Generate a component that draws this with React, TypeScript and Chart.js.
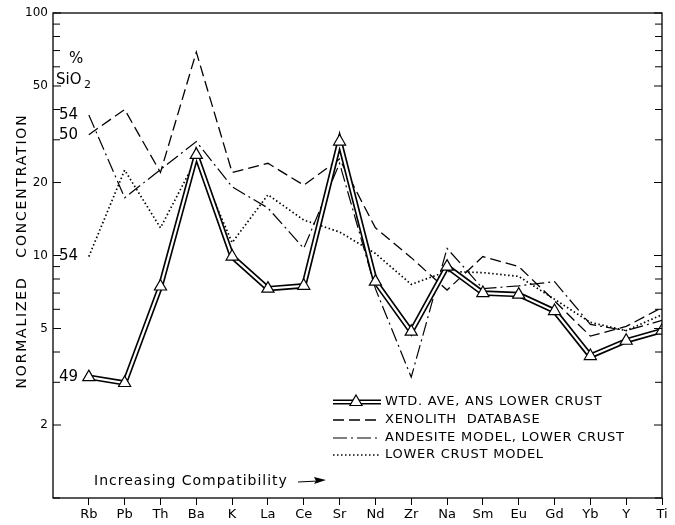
import React, { useEffect, useRef } from "react";
import { Chart, registerables } from "chart.js";

Chart.register(...registerables);

const categories = ["Rb", "Pb", "Th", "Ba", "K", "La", "Ce", "Sr", "Nd", "Zr", "Na", "Sm", "Eu", "Gd", "Yb", "Y", "Ti"];

const wtdAve = [3.15, 2.98, 7.45, 26, 9.9, 7.3, 7.5, 29.5, 7.8, 4.85, 9.0, 7.0, 6.9, 5.9, 3.85, 4.45, 4.9];
const xenolith = [31.5, 40, 22, 69, 22, 24, 19.5, 25, 13, 9.8, 7.2, 9.9, 9.0, 6.5, 4.65, 5.1, 6.1];
const andesite = [38, 17.3, 22.6, 29.5, 19.2, 15.7, 10.7, 24, 7.3, 3.15, 10.7, 7.3, 7.5, 7.8, 5.2, 4.9, 5.4];
const lowerCrust = [9.9, 22.5, 13, 25, 11.3, 17.8, 14, 12.5, 10.2, 7.6, 8.6, 8.5, 8.2, 6.6, 5.3, 4.9, 5.7];

const yTickValues = [1, 2, 3, 4, 5, 6, 7, 8, 9, 10, 20, 30, 40, 50, 60, 70, 80, 90, 100];
const yTickLabels = [2, 5, 10, 20, 50, 100];

const legendLabels = ["WTD. AVE, ANS LOWER CRUST", "XENOLITH  DATABASE", "ANDESITE MODEL, LOWER CRUST", "LOWER CRUST MODEL"];
const siO2Labels = [
  { text: "54", value: 38 },
  { text: "50", value: 31.5 },
  { text: "54", value: 9.9 },
  { text: "49", value: 3.15 },
];

const FONT = "'DejaVu Sans', sans-serif";
const DASHED = [11, 5];
const DASHDOT = [14, 4, 2, 4];
const DOTTED = [1.5, 2.5];

const toXY = (arr: number[]) => arr.map((v, i) => ({ x: i, y: v }));

const decorPlugin = {
  id: "decor",
  afterDraw(chart: any) {
    const { ctx, chartArea, scales } = chart;
    const { left, right, top, bottom } = chartArea;
    const y = scales.y;
    ctx.save();
    ctx.strokeStyle = "#000";
    ctx.fillStyle = "#000";
    ctx.lineWidth = 1.3;
    ctx.setLineDash([]);
    ctx.strokeRect(left, top, right - left, bottom - top);

    // inward ticks on both sides
    ctx.lineWidth = 1;
    yTickValues.forEach((v) => {
      const py = y.getPixelForValue(v);
      const len = yTickLabels.includes(v) ? 8 : 7;
      ctx.beginPath();
      ctx.moveTo(left, py);
      ctx.lineTo(left + len, py);
      ctx.moveTo(right, py);
      ctx.lineTo(right - len, py);
      ctx.stroke();
    });

    // y title
    ctx.save();
    ctx.translate(22, 251);
    ctx.rotate(-Math.PI / 2);
    ctx.font = `14px ${FONT}`;
    (ctx as any).letterSpacing = "1.8px";
    ctx.textAlign = "center";
    ctx.textBaseline = "middle";
    ctx.fillText("NORMALIZED   CONCENTRATION", 0, 0);
    ctx.restore();

    // % SiO2 annotations
    ctx.font = `15px ${FONT}`;
    ctx.textAlign = "left";
    ctx.textBaseline = "middle";
    ctx.fillText("%", 69, 59);
    ctx.fillText("SiO", 56, 80);
    ctx.font = `11px ${FONT}`;
    ctx.fillText("2", 84, 85);
    ctx.font = `15px ${FONT}`;
    siO2Labels.forEach((l) => {
      ctx.fillText(l.text, 59, y.getPixelForValue(l.value));
    });

    // Increasing compatibility
    ctx.font = `14px ${FONT}`;
    (ctx as any).letterSpacing = "1px";
    ctx.fillText("Increasing Compatibility", 94, 481);
    (ctx as any).letterSpacing = "0px";
    ctx.lineWidth = 1.1;
    ctx.beginPath();
    ctx.moveTo(298, 482);
    ctx.lineTo(318, 481);
    ctx.stroke();
    ctx.beginPath();
    ctx.moveTo(326, 480);
    ctx.lineTo(314, 477);
    ctx.lineTo(316, 481);
    ctx.lineTo(314, 484);
    ctx.closePath();
    ctx.fill();

    // legend
    const rows = [402, 420, 438, 455];
    const x0 = 333;
    const x1 = 381;
    ctx.lineWidth = 5;
    ctx.strokeStyle = "#000";
    ctx.beginPath();
    ctx.moveTo(x0, rows[0]);
    ctx.lineTo(x1, rows[0]);
    ctx.stroke();
    ctx.lineWidth = 2;
    ctx.strokeStyle = "#fff";
    ctx.beginPath();
    ctx.moveTo(x0, rows[0]);
    ctx.lineTo(x1, rows[0]);
    ctx.stroke();
    const tr = 7;
    const tcx = 356;
    const tcy = rows[0];
    ctx.beginPath();
    for (let k = 0; k < 3; k++) {
      const a = (k * 2 * Math.PI) / 3;
      const px = tcx + Math.sin(a) * tr;
      const py = tcy - Math.cos(a) * tr;
      if (k === 0) ctx.moveTo(px, py);
      else ctx.lineTo(px, py);
    }
    ctx.closePath();
    ctx.fillStyle = "#fff";
    ctx.fill();
    ctx.strokeStyle = "#000";
    ctx.lineWidth = 1.2;
    ctx.stroke();
    ctx.fillStyle = "#000";

    const dashes = [DASHED, DASHDOT, DOTTED];
    const widths = [1.3, 1.2, 1.7];
    dashes.forEach((d, i) => {
      ctx.setLineDash(d);
      ctx.lineWidth = widths[i];
      ctx.beginPath();
      ctx.moveTo(x0, rows[i + 1]);
      ctx.lineTo(x1, rows[i + 1]);
      ctx.stroke();
    });
    ctx.setLineDash([]);

    ctx.font = `13px ${FONT}`;
    (ctx as any).letterSpacing = "0.75px";
    legendLabels.forEach((t, i) => {
      ctx.fillText(t, 385, rows[i]);
    });
    ctx.restore();
  },
};

export default function App() {
  const ref = useRef<HTMLCanvasElement | null>(null);
  useEffect(() => {
    if (!ref.current) return;
    const chart = new Chart(ref.current, {
      type: "line",
      data: {
        datasets: [
          {
            label: legendLabels[0],
            data: toXY(wtdAve),
            borderColor: "#fff",
            borderWidth: 2.2,
            pointStyle: "triangle",
            pointRadius: 7,
            pointBackgroundColor: "#fff",
            pointBorderColor: "#000",
            pointBorderWidth: 1.2,
            tension: 0,
          },
          {
            label: legendLabels[0] + " outline",
            data: toXY(wtdAve),
            borderColor: "#000",
            borderWidth: 5.5,
            pointRadius: 0,
            tension: 0,
          },
          {
            label: legendLabels[1],
            data: toXY(xenolith),
            borderColor: "#000",
            borderWidth: 1.3,
            borderDash: DASHED,
            pointRadius: 0,
            tension: 0,
          },
          {
            label: legendLabels[2],
            data: toXY(andesite),
            borderColor: "#000",
            borderWidth: 1.2,
            borderDash: DASHDOT,
            pointRadius: 0,
            tension: 0,
          },
          {
            label: legendLabels[3],
            data: toXY(lowerCrust),
            borderColor: "#000",
            borderWidth: 1.7,
            borderDash: DOTTED,
            pointRadius: 0,
            tension: 0,
          },
        ],
      },
      options: {
        responsive: false,
        animation: false,
        layout: { padding: { top: 13, right: 13, left: 0, bottom: 0 } },
        plugins: { legend: { display: false }, tooltip: { enabled: false } },
        scales: {
          x: {
            type: "linear",
            min: -1,
            max: categories.length - 1,
            afterBuildTicks: (scale: any) => {
              scale.ticks = categories.map((_, i) => ({ value: i }));
            },
            afterFit: (scale: any) => {
              scale.height = 27;
            },
            grid: { display: true, drawOnChartArea: false, drawTicks: true, tickLength: 7, color: "#000", lineWidth: 1 },
            border: { display: false },
            ticks: {
              autoSkip: false,
              maxRotation: 0,
              padding: 2,
              color: "#000",
              font: { family: FONT, size: 13 },
              callback: (v: any) => categories[v] ?? "",
            },
          },
          y: {
            type: "logarithmic",
            min: 1,
            max: 100,
            afterBuildTicks: (scale: any) => {
              scale.ticks = yTickValues.map((v) => ({ value: v }));
            },
            afterFit: (scale: any) => {
              scale.width = 53;
            },
            grid: { display: false, drawTicks: false },
            border: { display: false },
            ticks: {
              autoSkip: false,
              padding: 5,
              color: "#000",
              font: { family: FONT, size: 12 },
              callback: (v: any) => (yTickLabels.includes(Number(v)) ? String(v) : ""),
            },
          },
        },
      },
      plugins: [decorPlugin],
    });
    return () => chart.destroy();
  }, []);
  return (
    <div style={{ position: "absolute", left: 0, top: 0, width: 675, height: 525, background: "#fff" }}>
      <canvas ref={ref} width={675} height={525} />
    </div>
  );
}
